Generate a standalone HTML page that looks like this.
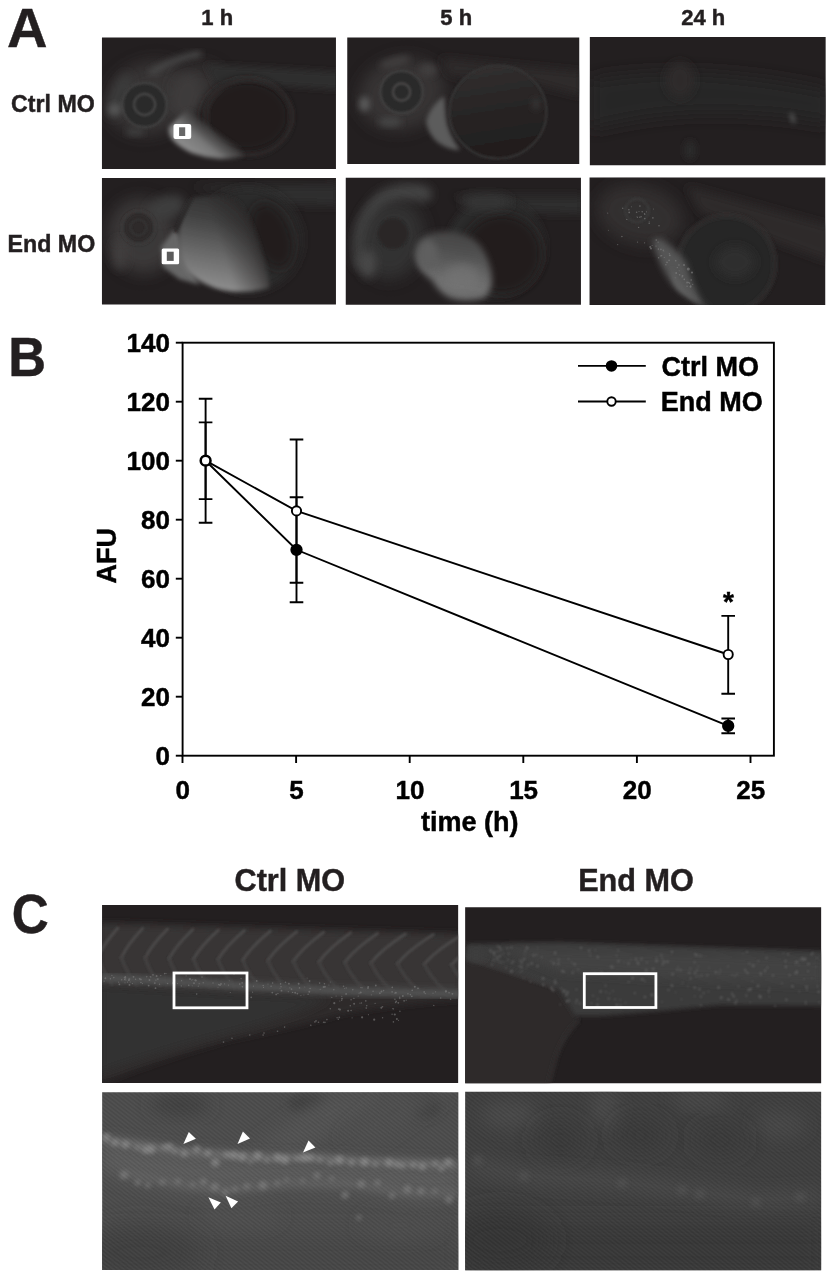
<!DOCTYPE html>
<html lang="en">
<head>
<meta charset="utf-8">
<title>Figure</title>
<style>
html,body{margin:0;padding:0;background:#fff;}
body{width:834px;height:1280px;overflow:hidden;position:relative;}
svg{display:block;position:absolute;left:0;top:0;}
text{font-family:"Liberation Sans",Arial,Helvetica,sans-serif;font-weight:bold;fill:#231f20;stroke:#231f20;stroke-width:0.45px;}
.pl{fill:#231f20;font-size:56px;}
.hd{font-size:23.2px;}
.th{font-size:22px;}
.ax{font-size:26px;fill:#000;stroke:#000;}
.at{font-size:27px;}
.ch{font-size:30.6px;}
</style>
</head>
<body>
<svg width="834" height="1280" viewBox="0 0 834 1280">
<defs>
  <filter id="b1" x="-30%" y="-30%" width="160%" height="160%"><feGaussianBlur stdDeviation="1"/></filter>
  <filter id="b2" x="-30%" y="-30%" width="160%" height="160%"><feGaussianBlur stdDeviation="2"/></filter>
  <filter id="b3" x="-30%" y="-30%" width="160%" height="160%"><feGaussianBlur stdDeviation="3"/></filter>
  <filter id="b5" x="-40%" y="-40%" width="180%" height="180%"><feGaussianBlur stdDeviation="5"/></filter>
  <filter id="b8" x="-50%" y="-50%" width="200%" height="200%"><feGaussianBlur stdDeviation="8"/></filter>
  <filter id="b12" x="-60%" y="-60%" width="220%" height="220%"><feGaussianBlur stdDeviation="12"/></filter>
  <pattern id="hx" width="3.2" height="3.2" patternUnits="userSpaceOnUse" patternTransform="rotate(38)"><rect width="3.2" height="1.3" fill="#000" opacity="0.06"/><rect y="1.6" width="3.2" height="1.3" fill="#fff" opacity="0.022"/></pattern>
  <clipPath id="cA1"><rect x="101.95" y="37.55" width="234.00" height="131.40"/></clipPath>
  <clipPath id="cA2"><rect x="347.25" y="37.55" width="232.00" height="126.40"/></clipPath>
  <clipPath id="cA3"><rect x="589.85" y="37.05" width="235.80" height="128.10"/></clipPath>
  <clipPath id="cA4"><rect x="101.95" y="177.95" width="234.00" height="126.50"/></clipPath>
  <clipPath id="cA5"><rect x="345.75" y="177.75" width="235.20" height="127.00"/></clipPath>
  <clipPath id="cA6"><rect x="589.55" y="177.55" width="235.70" height="127.40"/></clipPath>
  <clipPath id="cC1"><rect x="102.05" y="905.05" width="356.10" height="177.90"/></clipPath>
  <clipPath id="cC2"><rect x="465.15" y="907.15" width="356.00" height="176.10"/></clipPath>
  <clipPath id="cC3"><rect x="102.15" y="1092.15" width="356.20" height="177.90"/></clipPath>
  <clipPath id="cC4"><rect x="465.15" y="1091.65" width="356.00" height="178.70"/></clipPath>
</defs>

<!-- ================= PANEL A ================= -->
<text class="pl" x="7" y="47.3">A</text>
<text class="hd th" x="217.2" y="25" text-anchor="middle">1 h</text>
<text class="hd th" x="456.2" y="25" text-anchor="middle">5 h</text>
<text class="hd th" x="703.3" y="25" text-anchor="middle">24 h</text>
<text class="hd" x="94.8" y="111.6" text-anchor="end">Ctrl MO</text>
<text class="hd" x="95.2" y="251.8" text-anchor="end">End MO</text>

<g id="A1" clip-path="url(#cA1)">
  <rect x="100.4" y="36.0" width="237.1" height="134.5" fill="#231f20"/>
  <!-- head glow -->
  <ellipse cx="150" cy="98" rx="44" ry="36" fill="#3c3b3b" opacity="0.8" filter="url(#b8)" transform="rotate(-20 150 98)"/>
  <ellipse cx="200" cy="88" rx="26" ry="24" fill="#3a3939" opacity="0.8" filter="url(#b8)"/>
  <!-- trunk -->
  <path d="M205 64 L340 72 L340 90 L250 84 L215 86 Z" fill="#2f2d2d" filter="url(#b3)"/>
  <!-- top streak -->
  <path d="M152 72 Q175 58 199 54" stroke="#484848" stroke-width="6" fill="none" stroke-linecap="round" filter="url(#b3)"/>
  <!-- eye -->
  <ellipse cx="186" cy="96" rx="15" ry="22" fill="#3c3b3b" filter="url(#b5)" transform="rotate(15 186 96)"/>
  <ellipse cx="120" cy="96" rx="9" ry="24" fill="#3b3a3a" filter="url(#b5)" transform="rotate(20 120 96)"/>
  <circle cx="144.6" cy="105" r="22" fill="#2c2b2b" filter="url(#b1)"/>
  <circle cx="144.6" cy="105" r="22.3" fill="none" stroke="#414040" stroke-width="2.4" filter="url(#b1)"/>
  <circle cx="144.6" cy="104.5" r="10.5" fill="none" stroke="#454444" stroke-width="2.4" filter="url(#b1)"/>
  <circle cx="114.5" cy="109.5" r="6" fill="#575757" filter="url(#b3)"/>
  <ellipse cx="135" cy="132" rx="10" ry="4" fill="#3d3c3c" filter="url(#b3)"/>
  <!-- yolk -->
  <ellipse cx="246" cy="116" rx="44" ry="36" fill="#201d1d" filter="url(#b5)"/>
  <ellipse cx="249" cy="117" rx="43" ry="38" fill="none" stroke="#312f2f" stroke-width="3" filter="url(#b2)"/>
  <!-- bright ventral crescent -->
  <linearGradient id="gA1" gradientUnits="userSpaceOnUse" x1="190" y1="154" x2="214" y2="124">
    <stop offset="0" stop-color="#8e8e8e"/><stop offset="0.45" stop-color="#787878"/><stop offset="0.8" stop-color="#4a4949" stop-opacity="0.7"/><stop offset="1" stop-color="#2a2828" stop-opacity="0"/>
  </linearGradient>
  <path d="M187 109 L169 127 Q167.5 136 175 142.5 Q184 150 193 153.5 Q206 158 219 158.8 Q232 159 244 156.5 L240 147 Q224 137 210 127 Q200 119 194 110 Z" fill="url(#gA1)" filter="url(#b2)"/>
  <!-- ROI box -->
  <rect x="173.5" y="123.9" width="17.7" height="15.2" rx="2" fill="#fff"/>
  <rect x="179.1" y="127.3" width="6.1" height="8.7" fill="#676767"/>
</g>
<g id="A2" clip-path="url(#cA2)">
  <rect x="345.7" y="36.0" width="235.1" height="129.5" fill="#231f20"/>
  <!-- head glow -->
  <ellipse cx="402" cy="94" rx="44" ry="36" fill="#3a3939" opacity="0.85" filter="url(#b8)" transform="rotate(-15 402 94)"/>
  <!-- trunk -->
  <path d="M440 58 L582 72 L582 96 L520 80 L450 76 Z" fill="#2e2c2c" filter="url(#b5)"/>
  <!-- yolk -->
  <linearGradient id="gA2" gradientUnits="userSpaceOnUse" x1="490" y1="66" x2="505" y2="158">
    <stop offset="0" stop-color="#312f2f"/><stop offset="0.45" stop-color="#282525"/><stop offset="1" stop-color="#201d1d"/>
  </linearGradient>
  <ellipse cx="498" cy="112" rx="48.5" ry="46.5" fill="url(#gA2)" filter="url(#b1)"/>
  <ellipse cx="498" cy="112" rx="48.5" ry="46.5" fill="none" stroke="#363434" stroke-width="2.2" filter="url(#b1)"/>
  <ellipse cx="536" cy="104" rx="5" ry="6" fill="#343232" filter="url(#b3)"/>
  <!-- eye -->
  <circle cx="401.6" cy="92" r="21" fill="#2c2a2a" filter="url(#b1)"/>
  <circle cx="401.6" cy="92" r="21.3" fill="none" stroke="#414040" stroke-width="2.4" filter="url(#b1)"/>
  <circle cx="401.6" cy="92" r="8.6" fill="none" stroke="#464545" stroke-width="2.6" filter="url(#b1)"/>
  <ellipse cx="364.5" cy="104" rx="5.5" ry="7.5" fill="#5a5a5a" filter="url(#b3)"/>
  <ellipse cx="390" cy="122" rx="12" ry="5" fill="#454444" filter="url(#b3)"/>
  <ellipse cx="428" cy="70" rx="9" ry="7" fill="#3f3e3e" filter="url(#b3)"/>
  <ellipse cx="395" cy="62" rx="16" ry="5" fill="#3f3e3e" filter="url(#b3)" transform="rotate(-15 395 62)"/>
  <!-- pericardial -->
  <path d="M444 96 Q430 106 426 121 Q428 136 440 144 Q450 150 460 150 Q448 134 446 118 Z" fill="#5c5c5c" filter="url(#b2)"/>
</g>
<g id="A3" clip-path="url(#cA3)">
  <rect x="588.3" y="35.5" width="238.9" height="131.2" fill="#231f20"/>
  <path d="M590 80 Q690 60 830 90 L830 125 Q700 100 590 130 Z" fill="#282525" filter="url(#b8)"/>
  <ellipse cx="680" cy="80" rx="14" ry="18" fill="#2d2b2b" filter="url(#b5)"/>
  <ellipse cx="792.5" cy="118" rx="3" ry="6" fill="#454444" filter="url(#b2)" transform="rotate(-20 792.5 118)"/>
  <ellipse cx="690" cy="150" rx="6" ry="10" fill="#2c2a2a" filter="url(#b3)"/>
</g>
<g id="A4" clip-path="url(#cA4)">
  <rect x="100.4" y="176.4" width="237.1" height="129.6" fill="#231f20"/>
  <!-- head -->
  <ellipse cx="142" cy="236" rx="34" ry="38" fill="#3c3b3b" opacity="0.95" filter="url(#b8)" transform="rotate(-15 142 236)"/>
  <ellipse cx="166" cy="208" rx="20" ry="12" fill="#3e3d3d" filter="url(#b5)" transform="rotate(-20 166 208)"/>
  <ellipse cx="120" cy="254" rx="8" ry="16" fill="#3f3e3e" filter="url(#b5)"/>
  <circle cx="138.5" cy="227.5" r="16" fill="#2e2c2c" filter="url(#b2)"/>
  <circle cx="138.5" cy="227.5" r="16.5" fill="none" stroke="#3c3b3b" stroke-width="2" filter="url(#b1)"/>
  <circle cx="138.5" cy="227.5" r="8" fill="none" stroke="#363535" stroke-width="2" filter="url(#b1)"/>
  <!-- trunk -->
  <path d="M190 186 L340 184 L340 206 L280 204 Z" fill="#2e2d2d" filter="url(#b5)"/>
  <!-- yolk outline glow -->
  <ellipse cx="248" cy="240" rx="54" ry="52" fill="#2b2929" filter="url(#b5)"/>
  <ellipse cx="272" cy="236" rx="20" ry="34" fill="#221f1f" filter="url(#b5)" transform="rotate(-20 272 236)"/>
  <!-- pericardial region -->
  <path d="M174 230 L161 247 L163 267 L179 279 L200 285 L184 262 L180 236 Z" fill="#666" filter="url(#b2)"/>
  <!-- bright yolk -->
  <linearGradient id="gA4" gradientUnits="userSpaceOnUse" x1="240" y1="194" x2="222" y2="292">
    <stop offset="0" stop-color="#2e2d2d"/><stop offset="0.3" stop-color="#424242"/><stop offset="0.65" stop-color="#6a6a6a"/><stop offset="1" stop-color="#909090"/>
  </linearGradient>
  <linearGradient id="gA4b" gradientUnits="userSpaceOnUse" x1="222" y1="250" x2="266" y2="236">
    <stop offset="0" stop-color="#252222" stop-opacity="0"/><stop offset="0.55" stop-color="#252222" stop-opacity="0.45"/><stop offset="1" stop-color="#252222" stop-opacity="1"/>
  </linearGradient>
  <g filter="url(#b2)">
  <path id="yA4" d="M190.5 199 Q182 214 179 230 Q177 246 181 261 Q186 273 198 280 Q214 290 231 291.5 Q252 293 269 287.5 Q268 272 263 257 Q259 242 253.5 228 Q247 213 240 203 Q230 196 217 195.5 Q200 195 190.5 199 Z" fill="url(#gA4)"/>
  <path d="M190.5 199 Q182 214 179 230 Q177 246 181 261 Q186 273 198 280 Q214 290 231 291.5 Q252 293 269 287.5 Q268 272 263 257 Q259 242 253.5 228 Q247 213 240 203 Q230 196 217 195.5 Q200 195 190.5 199 Z" fill="url(#gA4b)"/>
  </g>
  <!-- dark line separating head and yolk -->
  <path d="M192 198 L175 232" stroke="#2a2828" stroke-width="2.5" fill="none" filter="url(#b1)"/>
  <!-- ROI box -->
  <rect x="161.7" y="248.5" width="17.4" height="15.7" rx="1.5" fill="#fff"/>
  <rect x="166.8" y="251.7" width="6.9" height="9.2" fill="#5c5c5c"/>
</g>
<g id="A5" clip-path="url(#cA5)">
  <rect x="344.2" y="176.2" width="238.3" height="130.1" fill="#231f20"/>
  <!-- head glow crescent -->
  <path d="M362 262 Q356 220 384 198 Q404 188 424 194" stroke="#454444" stroke-width="16" fill="none" stroke-linecap="round" filter="url(#b5)"/>
  <ellipse cx="392" cy="240" rx="32" ry="40" fill="#363535" opacity="0.9" filter="url(#b8)" transform="rotate(15 392 240)"/>
  <ellipse cx="368" cy="264" rx="8" ry="14" fill="#4a4949" filter="url(#b5)"/>
  <!-- trunk -->
  <path d="M450 196 L584 196 L584 214 L520 212 Z" fill="#2e2d2d" filter="url(#b5)"/>
  <!-- yolk outline -->
  <ellipse cx="496" cy="248" rx="50" ry="50" fill="#2b2929" filter="url(#b3)"/>
  <ellipse cx="502" cy="254" rx="40" ry="40" fill="#211e1e" filter="url(#b5)"/>
  <ellipse cx="486" cy="202" rx="26" ry="8" fill="#363535" filter="url(#b5)"/>
  <!-- eye -->
  <circle cx="393" cy="233.6" r="15.5" fill="#2a2828" filter="url(#b1)"/>
  <!-- bright blobs -->
  <linearGradient id="gA5" gradientUnits="userSpaceOnUse" x1="462" y1="230" x2="452" y2="300">
    <stop offset="0" stop-color="#424141"/><stop offset="0.35" stop-color="#525252"/><stop offset="0.75" stop-color="#707070"/><stop offset="1" stop-color="#6c6c6c"/>
  </linearGradient>
  <path d="M420 240 Q428 231 446 231.5 Q468 232 480 245 Q492 262 492 282 Q490 294 484 298 Q466 303 450 298 Q438 292 432 280 Q418 272 415 256 Q415 246 420 240 Z" fill="url(#gA5)" filter="url(#b3)"/>
  <ellipse cx="428" cy="255" rx="10" ry="15" fill="#5e5e5e" filter="url(#b3)"/>
  <ellipse cx="462" cy="278" rx="18" ry="14" fill="#747474" opacity="0.7" filter="url(#b5)"/>
</g>
<g id="A6" clip-path="url(#cA6)">
  <rect x="588.0" y="176.0" width="238.8" height="130.5" fill="#231f20"/>
  <!-- head glow -->
  <ellipse cx="640" cy="215" rx="44" ry="30" fill="#343333" opacity="0.9" filter="url(#b8)" transform="rotate(15 640 215)"/>
  <!-- trunk band -->
  <path d="M686 186 L830 226 L830 262 L770 240 L700 212 Z" fill="#2d2b2b" filter="url(#b5)"/>
  <!-- yolk -->
  <circle cx="726.5" cy="264" r="49" fill="#282626" filter="url(#b2)"/>
  <circle cx="726.5" cy="264" r="48.5" fill="none" stroke="#353333" stroke-width="2.5" filter="url(#b2)"/>
  <ellipse cx="735" cy="262" rx="20" ry="16" fill="#2f2e2e" filter="url(#b5)"/>
  <!-- eye ring -->
  <circle cx="637" cy="210.5" r="11.5" fill="none" stroke="#3b3a3a" stroke-width="2" filter="url(#b1)"/>
  <!-- bright crescent -->
  <path d="M652 240 Q658 264 672 284 Q686 300 712 308 L702 302 Q692 284 686 262 Q676 248 660 238 Z" fill="#545454" filter="url(#b3)"/>
  <path d="M672 268 Q680 288 704 304 Q690 300 678 290 Q670 280 672 268 Z" fill="#5e5e5e" filter="url(#b2)"/>
  <!-- bright dots -->
  <g fill="#858585" opacity="0.6"><circle cx="637.5" cy="217.3" r="0.6"/><circle cx="631.4" cy="206.7" r="0.5"/><circle cx="646.5" cy="211.8" r="0.6"/><circle cx="638.6" cy="227.4" r="0.7"/><circle cx="639.9" cy="206.1" r="0.8"/><circle cx="641.1" cy="216.8" r="0.8"/><circle cx="628.9" cy="209.8" r="0.8"/><circle cx="644.8" cy="214.3" r="0.7"/><circle cx="636.6" cy="212.2" r="0.8"/><circle cx="629.2" cy="212.4" r="0.9"/><circle cx="644.6" cy="242.8" r="0.6"/><circle cx="649.2" cy="223.2" r="0.8"/><circle cx="653.5" cy="209" r="0.5"/><circle cx="617.7" cy="244.6" r="0.6"/><circle cx="639.8" cy="217.3" r="0.7"/><circle cx="626.8" cy="219.4" r="0.7"/><circle cx="637.5" cy="242.1" r="0.7"/><circle cx="656.2" cy="240.1" r="0.8"/><circle cx="642.2" cy="211.7" r="0.8"/><circle cx="658.1" cy="242.1" r="0.7"/><circle cx="644.5" cy="213.7" r="0.7"/><circle cx="637" cy="216.7" r="0.5"/><circle cx="652.1" cy="245.6" r="0.5"/><circle cx="649.2" cy="221.8" r="0.5"/><circle cx="621.9" cy="236.5" r="0.8"/><circle cx="608.4" cy="230.2" r="0.5"/><circle cx="644.8" cy="218.6" r="0.8"/><circle cx="659" cy="225.7" r="0.8"/><circle cx="622.7" cy="208.2" r="0.7"/><circle cx="607.7" cy="213.1" r="0.6"/><circle cx="639" cy="211.4" r="0.5"/><circle cx="652.9" cy="217.9" r="0.8"/><circle cx="691.2" cy="280" r="0.8"/><circle cx="679.6" cy="274.7" r="0.8"/><circle cx="675.7" cy="260.8" r="0.8"/><circle cx="669.8" cy="255.3" r="0.9"/><circle cx="660.9" cy="249.4" r="0.8"/><circle cx="675.2" cy="277.7" r="0.5"/><circle cx="669.1" cy="260.4" r="0.8"/><circle cx="679.1" cy="270.7" r="0.5"/><circle cx="678.9" cy="265" r="0.7"/><circle cx="682.5" cy="275.8" r="0.9"/><circle cx="651" cy="248.6" r="1"/><circle cx="661.6" cy="255.8" r="0.7"/><circle cx="677.3" cy="267.6" r="0.7"/><circle cx="667" cy="262.4" r="0.8"/><circle cx="663.8" cy="250.9" r="0.5"/><circle cx="676.2" cy="273" r="0.9"/><circle cx="664.3" cy="257.5" r="0.6"/><circle cx="658.6" cy="257.7" r="0.7"/><circle cx="682.1" cy="276.9" r="0.7"/><circle cx="688.3" cy="282.4" r="0.7"/><circle cx="689.4" cy="283.1" r="0.8"/><circle cx="690.7" cy="285.9" r="0.7"/><circle cx="660.4" cy="255.9" r="0.6"/><circle cx="687.1" cy="282.5" r="0.9"/><circle cx="658.4" cy="249.1" r="0.8"/><circle cx="687.1" cy="286.2" r="0.7"/><circle cx="656" cy="246.1" r="0.6"/><circle cx="665.9" cy="264.8" r="0.7"/><circle cx="669.3" cy="253.7" r="0.6"/><circle cx="650.2" cy="247.1" r="1"/><circle cx="690.5" cy="286.7" r="1"/><circle cx="692.7" cy="284.3" r="0.6"/><circle cx="684.3" cy="279.4" r="0.8"/><circle cx="663.3" cy="250.3" r="0.7"/><circle cx="688.3" cy="269" r="1.5"/><circle cx="692" cy="272.5" r="1.1"/><circle cx="684" cy="265" r="1"/></g>
</g>

<!-- ================= PANEL B ================= -->
<text class="pl" x="8.3" y="375.7" transform="translate(8.3 0) scale(0.935 1) translate(-8.3 0)">B</text>
<g id="plot" stroke="#000" stroke-width="1.9" fill="none">
  <rect x="182.6" y="342.7" width="591.3" height="413"/>
  <line x1="175.8" y1="755.7" x2="182.6" y2="755.7"/>
  <line x1="175.8" y1="696.7" x2="182.6" y2="696.7"/>
  <line x1="175.8" y1="637.7" x2="182.6" y2="637.7"/>
  <line x1="175.8" y1="578.7" x2="182.6" y2="578.7"/>
  <line x1="175.8" y1="519.7" x2="182.6" y2="519.7"/>
  <line x1="175.8" y1="460.7" x2="182.6" y2="460.7"/>
  <line x1="175.8" y1="401.7" x2="182.6" y2="401.7"/>
  <line x1="175.8" y1="342.7" x2="182.6" y2="342.7"/>
  <line x1="182.5" y1="755.7" x2="182.5" y2="763"/>
  <line x1="296.1" y1="755.7" x2="296.1" y2="763"/>
  <line x1="409.7" y1="755.7" x2="409.7" y2="763"/>
  <line x1="523.3" y1="755.7" x2="523.3" y2="763"/>
  <line x1="636.9" y1="755.7" x2="636.9" y2="763"/>
  <line x1="750.5" y1="755.7" x2="750.5" y2="763"/>
  <path d="M205.6 522.7V398.8M198.8 522.7h13.6M198.8 398.8h13.6"/>
  <path d="M205.6 499.1V422.4M198.8 499.1h13.6M198.8 422.4h13.6"/>
  <path d="M296.5 582.8V439.5M289.7 582.8h13.6M289.7 439.5h13.6"/>
  <path d="M296.5 602.3V497.3M289.7 602.3h13.6M289.7 497.3h13.6"/>
  <path d="M728.1999999999999 693.8V615.9M721.4 693.8h13.6M721.4 615.9h13.6"/>
  <path d="M728.1999999999999 733.3V718.5M721.4 733.3h13.6M721.4 718.5h13.6"/>
  <polyline points="205.6,460.7 296.5,549.8 728.2,725.9"/>
  <polyline points="205.6,460.7 296.5,510.9 728.2,654.5"/>
  <circle cx="205.6" cy="460.7" r="5.2" fill="#000"/>
  <circle cx="296.5" cy="549.8" r="5.2" fill="#000"/>
  <circle cx="728.2" cy="725.9" r="5.2" fill="#000"/>
  <circle cx="205.6" cy="460.7" r="4.6" fill="#fff"/>
  <circle cx="296.5" cy="510.9" r="4.6" fill="#fff"/>
  <circle cx="728.2" cy="654.5" r="4.6" fill="#fff"/>
  <line x1="578" y1="365.9" x2="645.8" y2="365.9"/><circle cx="611.5" cy="365.9" r="4.8" fill="#000"/>
  <line x1="578" y1="401.5" x2="645.8" y2="401.5"/><circle cx="611.5" cy="401.5" r="4.2" fill="#fff"/>
</g>
<text class="ax" x="170" y="764.6" text-anchor="end">0</text>
<text class="ax" x="170" y="705.6" text-anchor="end">20</text>
<text class="ax" x="170" y="646.6" text-anchor="end">40</text>
<text class="ax" x="170" y="587.6" text-anchor="end">60</text>
<text class="ax" x="170" y="528.6" text-anchor="end">80</text>
<text class="ax" x="170" y="469.6" text-anchor="end">100</text>
<text class="ax" x="170" y="410.6" text-anchor="end">120</text>
<text class="ax" x="170" y="351.6" text-anchor="end">140</text>
<text class="ax" x="182.8" y="798.6" text-anchor="middle">0</text>
<text class="ax" x="296.4" y="798.6" text-anchor="middle">5</text>
<text class="ax" x="410.0" y="798.6" text-anchor="middle">10</text>
<text class="ax" x="523.6" y="798.6" text-anchor="middle">15</text>
<text class="ax" x="637.2" y="798.6" text-anchor="middle">20</text>
<text class="ax" x="750.8" y="798.6" text-anchor="middle">25</text>
<text class="ax at" x="661.5" y="375.5">Ctrl MO</text>
<text class="ax at" x="660.8" y="411.1">End MO</text>
<text class="ax at" x="469.8" y="830.6" text-anchor="middle">time (h)</text>
<text class="ax at" transform="translate(115.5 555.8) rotate(-90)" text-anchor="middle">AFU</text>
<text class="ax" x="728.4" y="611.3" text-anchor="middle" style="font-size:28px">*</text>

<!-- ================= PANEL C ================= -->
<text class="pl" x="11.8" y="932.6" style="font-size:55px" transform="translate(11.8 0) scale(0.93 1) translate(-11.8 0)">C</text>
<text class="ch" x="289.8" y="890.6" text-anchor="middle">Ctrl MO</text>
<text class="ch" x="636" y="890.6" text-anchor="middle">End MO</text>

<g id="C1" clip-path="url(#cC1)">
  <rect x="100" y="903" width="360" height="182" fill="#231f20"/>
  <path d="M100 922 L460 933 L460 1000 Q400 1004 342 1014 Q300 1026 230 1040 Q160 1060 100 1084 Z" fill="#2e2c2c" filter="url(#b3)"/>
  <path d="M100 925 L460 936 L460 994 L100 980 Z" fill="#373636" filter="url(#b3)"/>
  <path d="M100 985 L330 998 Q300 1015 230 1034 Q160 1052 100 1074 Z" fill="#323030" filter="url(#b5)"/>
  <path d="M93.5 927.4 Q80 943.4 74.8 956.4 M117.9 928 Q103.6 944 98 957 M142.6 928.5 Q127.4 944.5 121.5 957.5 M167.6 929 Q151.5 945 145.2 958 M192.9 929.5 Q175.9 945.5 169.2 958.5 M218.4 930.1 Q200.5 946.1 193.5 959.1 M244.3 930.6 Q225.4 946.6 218 959.6 M270.4 931.2 Q250.6 947.2 242.9 960.2 M296.8 931.7 Q276 947.7 267.9 960.7 M323.5 932.3 Q301.8 948.3 293.3 961.3 M350.5 932.9 Q327.8 948.9 319 961.9 M377.8 933.4 Q354.1 949.4 344.9 962.4 M405.4 934 Q380.7 950 371.1 963 M433.3 934.6 Q407.6 950.6 397.6 963.6 M461.6 935.2 Q434.8 951.2 424.4 964.2 M490.1 935.8 Q462.3 951.8 451.5 964.8" stroke="#4b4a4a" stroke-width="2.8" fill="none" stroke-linecap="round" filter="url(#b1)"/>
  <path d="M74.8 956.4 Q78.8 970.4 88.2 983.4 M98 957 Q102.2 971 112 984 M121.5 957.5 Q125.8 971.5 136 984.5 M145.2 958 Q149.7 972 160.2 985 M169.2 958.5 Q173.9 972.5 184.8 985.5 M193.5 959.1 Q198.3 973.1 209.6 986.1 M218 959.6 Q223 973.6 234.7 986.6 M242.9 960.2 Q248 974.2 260 987.2 M267.9 960.7 Q273.3 974.7 285.7 987.7 M293.3 961.3 Q298.8 975.3 311.6 988.3 M319 961.9 Q324.6 975.9 337.8 988.9 M344.9 962.4 Q350.7 976.4 364.3 989.4 M371.1 963 Q377.1 977 391.1 990 M397.6 963.6 Q403.8 977.6 418.2 990.6 M424.4 964.2 Q430.8 978.2 445.6 991.2 M451.5 964.8 Q458.1 978.8 473.4 991.8" stroke="#424141" stroke-width="3.2" fill="none" stroke-linecap="round" filter="url(#b1)"/>
  <path d="M100 978 L175 982 L250 986.5 L340 991 L460 994" stroke="#4a4949" stroke-width="10" fill="none" filter="url(#b3)"/>
  <path d="M100 977.5 L175 981.5 L250 986 L340 991 L460 994" stroke="#525252" stroke-width="4" fill="none" filter="url(#b2)"/>
  <g fill="#868686" opacity="0.55"><circle cx="218" cy="987.2" r="0.5"/><circle cx="292.6" cy="992.4" r="0.7"/><circle cx="124.4" cy="977.5" r="0.7"/><circle cx="128.6" cy="978.9" r="0.5"/><circle cx="253.4" cy="986.2" r="0.6"/><circle cx="324.9" cy="986.7" r="1"/><circle cx="307.1" cy="978.1" r="0.5"/><circle cx="406.2" cy="1000.2" r="0.6"/><circle cx="154.8" cy="983.1" r="0.9"/><circle cx="167.6" cy="983.5" r="0.8"/><circle cx="328.9" cy="985" r="0.5"/><circle cx="125" cy="982.8" r="0.6"/><circle cx="343.5" cy="986.2" r="0.8"/><circle cx="263.5" cy="987.4" r="0.6"/><circle cx="383.6" cy="990.6" r="0.8"/><circle cx="288.9" cy="983.7" r="0.9"/><circle cx="360.8" cy="987.6" r="0.6"/><circle cx="251.2" cy="997.3" r="0.9"/><circle cx="157.5" cy="979.1" r="0.8"/><circle cx="373.1" cy="991.2" r="0.8"/><circle cx="412.2" cy="990.4" r="0.8"/><circle cx="308.1" cy="994.3" r="0.7"/><circle cx="399.7" cy="997.3" r="0.8"/><circle cx="125.4" cy="977" r="0.9"/><circle cx="331.8" cy="997.4" r="0.6"/><circle cx="239.8" cy="984.1" r="0.8"/><circle cx="111.9" cy="975.4" r="0.6"/><circle cx="124.8" cy="979.4" r="0.9"/><circle cx="149.5" cy="980" r="0.9"/><circle cx="132.4" cy="983.6" r="0.7"/><circle cx="297.4" cy="993.6" r="0.9"/><circle cx="202" cy="977" r="0.7"/><circle cx="230.3" cy="992.5" r="0.6"/><circle cx="166" cy="973.3" r="0.6"/><circle cx="186.1" cy="975.8" r="0.6"/><circle cx="105.4" cy="978.3" r="0.7"/><circle cx="234" cy="974" r="0.8"/><circle cx="285.5" cy="982.3" r="0.8"/><circle cx="342" cy="998.7" r="0.9"/><circle cx="411.8" cy="996.3" r="0.9"/><circle cx="242.1" cy="982.9" r="0.8"/><circle cx="125.9" cy="980" r="0.5"/><circle cx="177.5" cy="983.5" r="0.5"/><circle cx="104.1" cy="981.2" r="0.6"/><circle cx="139.7" cy="978.8" r="0.9"/><circle cx="320.2" cy="989.3" r="0.6"/><circle cx="192.8" cy="979.7" r="0.6"/><circle cx="402.8" cy="996.1" r="1"/><circle cx="268" cy="984" r="0.6"/><circle cx="224.6" cy="983.9" r="0.6"/><circle cx="395.8" cy="992.8" r="1"/><circle cx="289.9" cy="987.8" r="0.6"/><circle cx="295.2" cy="992.7" r="1"/><circle cx="407.9" cy="993.8" r="0.8"/><circle cx="195.9" cy="980.5" r="0.9"/><circle cx="291.5" cy="989.1" r="0.9"/><circle cx="220" cy="984.9" r="1"/><circle cx="404.1" cy="1000.8" r="0.9"/><circle cx="392.1" cy="991.9" r="0.8"/><circle cx="229.2" cy="980.7" r="0.5"/><circle cx="113.8" cy="977.6" r="0.8"/><circle cx="440.7" cy="998" r="0.7"/><circle cx="433.8" cy="1005.4" r="0.7"/><circle cx="181.6" cy="980.7" r="0.6"/><circle cx="173.2" cy="982.9" r="1"/><circle cx="399.8" cy="998.5" r="0.7"/><circle cx="333.8" cy="989.8" r="0.8"/><circle cx="424.2" cy="991.9" r="0.9"/><circle cx="368" cy="988.1" r="0.9"/><circle cx="221" cy="983.9" r="0.9"/><circle cx="446" cy="991.2" r="1"/><circle cx="359.1" cy="993.2" r="0.6"/><circle cx="148.7" cy="985.6" r="0.9"/><circle cx="155.5" cy="988.2" r="0.9"/><circle cx="449.1" cy="992.7" r="0.8"/><circle cx="150.1" cy="976.5" r="0.5"/><circle cx="445.8" cy="991.5" r="1"/><circle cx="256.7" cy="980.9" r="0.9"/><circle cx="394.8" cy="993.1" r="0.6"/><circle cx="188.7" cy="985.3" r="0.8"/><circle cx="195.3" cy="980.2" r="1"/><circle cx="228.5" cy="985.1" r="0.7"/><circle cx="309.3" cy="991.8" r="1"/><circle cx="280.6" cy="983.9" r="0.8"/><circle cx="288.3" cy="991.7" r="0.6"/><circle cx="105.4" cy="978.3" r="0.9"/><circle cx="164.7" cy="973.6" r="0.8"/><circle cx="218.7" cy="984.6" r="0.8"/><circle cx="299.5" cy="987.9" r="0.8"/><circle cx="191.5" cy="980" r="0.6"/><circle cx="375.8" cy="985.5" r="0.9"/><circle cx="425.2" cy="993.5" r="0.7"/><circle cx="319.6" cy="983.1" r="0.8"/><circle cx="263.2" cy="985.5" r="0.8"/><circle cx="272.3" cy="992.6" r="0.9"/><circle cx="435.6" cy="991.8" r="0.6"/><circle cx="300.9" cy="995.6" r="0.6"/><circle cx="146.8" cy="976.8" r="0.7"/><circle cx="129.5" cy="979.1" r="0.8"/><circle cx="379.9" cy="993.2" r="0.9"/><circle cx="158.4" cy="979" r="0.6"/><circle cx="414.8" cy="986.8" r="1"/><circle cx="181.3" cy="985.9" r="0.7"/><circle cx="452.4" cy="993.8" r="0.9"/><circle cx="160.8" cy="975.6" r="0.7"/><circle cx="172.9" cy="983.4" r="0.7"/><circle cx="358.2" cy="996.1" r="0.7"/><circle cx="110.4" cy="978.7" r="0.7"/><circle cx="323.6" cy="987" r="1"/><circle cx="381.5" cy="991.4" r="1"/><circle cx="140.9" cy="979.4" r="0.9"/><circle cx="199.2" cy="983.7" r="0.6"/><circle cx="252.6" cy="992.2" r="0.6"/><circle cx="156.6" cy="975.9" r="1"/><circle cx="304.8" cy="987.1" r="0.5"/><circle cx="346.2" cy="988" r="0.7"/><circle cx="129.5" cy="984.9" r="0.9"/><circle cx="133.5" cy="976.8" r="0.9"/><circle cx="127.5" cy="982.1" r="0.7"/><circle cx="298.7" cy="983.7" r="1"/><circle cx="198.3" cy="986.2" r="0.6"/><circle cx="142.5" cy="983.6" r="0.6"/><circle cx="121.7" cy="979.7" r="0.7"/><circle cx="371.3" cy="994.8" r="0.6"/><circle cx="280" cy="988.3" r="0.5"/><circle cx="192.2" cy="985.8" r="0.5"/><circle cx="362" cy="987.8" r="0.7"/><circle cx="433" cy="993.2" r="0.6"/><circle cx="392.3" cy="987.3" r="0.9"/><circle cx="242.4" cy="986.8" r="0.8"/><circle cx="346.1" cy="993.9" r="0.9"/><circle cx="352.8" cy="989.7" r="0.8"/><circle cx="246.5" cy="984" r="0.6"/><circle cx="128.9" cy="980.2" r="0.9"/><circle cx="194" cy="983.2" r="0.9"/><circle cx="410.4" cy="994.6" r="0.8"/><circle cx="203.2" cy="982.8" r="0.7"/><circle cx="159.5" cy="984.2" r="0.7"/><circle cx="196.7" cy="994.1" r="0.8"/><circle cx="190" cy="979.1" r="1"/><circle cx="213" cy="983" r="0.7"/><circle cx="271.1" cy="986.2" r="0.8"/><circle cx="174.7" cy="980.8" r="0.6"/><circle cx="135.6" cy="979.3" r="0.7"/><circle cx="118.7" cy="982.2" r="0.6"/><circle cx="310.1" cy="988.5" r="0.8"/><circle cx="368.2" cy="987" r="0.9"/><circle cx="241.1" cy="978.6" r="0.7"/><circle cx="450.6" cy="999.3" r="0.8"/><circle cx="119.4" cy="984.3" r="0.9"/><circle cx="418" cy="988.3" r="0.9"/><circle cx="153" cy="974.9" r="0.8"/><circle cx="281.5" cy="990.7" r="0.9"/><circle cx="309.6" cy="981" r="0.9"/><circle cx="344.4" cy="988.6" r="0.5"/><circle cx="150.8" cy="977" r="0.7"/><circle cx="140.9" cy="982.5" r="0.8"/><circle cx="324.4" cy="983.8" r="0.8"/><circle cx="276.2" cy="994.4" r="0.9"/><circle cx="281" cy="986.7" r="0.8"/><circle cx="336.1" cy="996" r="0.6"/><circle cx="130.2" cy="982" r="0.6"/><circle cx="360.7" cy="992.6" r="1"/><circle cx="277.9" cy="993.5" r="0.7"/><circle cx="272.6" cy="983" r="0.8"/><circle cx="330.3" cy="982" r="0.5"/><circle cx="155.9" cy="980.1" r="0.7"/><circle cx="303.9" cy="995.1" r="0.5"/><circle cx="125.4" cy="978" r="0.8"/><circle cx="341.8" cy="996.3" r="0.6"/><circle cx="366.2" cy="1008.1" r="0.8"/><circle cx="338.3" cy="1019.2" r="0.7"/><circle cx="398.5" cy="1020.3" r="0.6"/><circle cx="362.1" cy="1017.3" r="1.1"/><circle cx="361.5" cy="1003" r="0.7"/><circle cx="396.2" cy="1001.5" r="0.9"/><circle cx="339.9" cy="1009.6" r="1.1"/><circle cx="339.3" cy="1017.3" r="0.9"/><circle cx="392.1" cy="1014.3" r="0.7"/><circle cx="392.8" cy="1008.6" r="0.6"/><circle cx="330.3" cy="1008.8" r="0.8"/><circle cx="351.1" cy="999.7" r="0.8"/><circle cx="352.1" cy="1017.8" r="0.6"/><circle cx="382.6" cy="1017.8" r="0.7"/><circle cx="394.8" cy="1014.5" r="1.1"/><circle cx="350.3" cy="1005.7" r="0.8"/><circle cx="399.9" cy="1011.3" r="0.8"/><circle cx="360" cy="1003.2" r="0.6"/><circle cx="337.1" cy="1017.7" r="0.7"/><circle cx="395.5" cy="1002.5" r="0.7"/><circle cx="365.8" cy="1000.9" r="0.8"/><circle cx="396.9" cy="1019" r="1"/><circle cx="374.2" cy="1019.7" r="1.1"/><circle cx="368.4" cy="1014.7" r="0.6"/><circle cx="381.3" cy="1007.7" r="1"/><circle cx="375.1" cy="1003.4" r="0.6"/><circle cx="394.9" cy="999.3" r="0.8"/><circle cx="354.1" cy="1003.7" r="1"/><circle cx="398.3" cy="1002.8" r="0.9"/><circle cx="351.1" cy="1010.5" r="0.8"/><circle cx="341.7" cy="1000.2" r="0.7"/><circle cx="393.4" cy="1008.9" r="0.7"/><circle cx="393.4" cy="1021.9" r="0.8"/><circle cx="339.8" cy="1001" r="0.6"/><circle cx="353.9" cy="998.4" r="0.7"/><circle cx="348.1" cy="1010.8" r="1"/><circle cx="382.5" cy="1006.7" r="0.8"/><circle cx="366.7" cy="1005.8" r="0.8"/><circle cx="334.3" cy="1003.2" r="1.1"/><circle cx="338.8" cy="1009.1" r="0.9"/><circle cx="314.9" cy="1021.9" r="0.8"/><circle cx="249.8" cy="1035" r="0.8"/><circle cx="264" cy="1033" r="0.8"/><circle cx="324.9" cy="1022.4" r="0.8"/><circle cx="316" cy="1020.9" r="0.8"/><circle cx="223.5" cy="1042.1" r="0.8"/><circle cx="318.5" cy="1022.2" r="0.8"/><circle cx="284.6" cy="1027.1" r="0.8"/><circle cx="263.1" cy="1035.1" r="0.8"/><circle cx="310.8" cy="1025.3" r="0.8"/><circle cx="326.9" cy="1019.6" r="0.8"/><circle cx="232" cy="1038.2" r="0.8"/><circle cx="277.5" cy="1031.2" r="0.8"/><circle cx="323.6" cy="1022.2" r="0.8"/></g>
  <rect x="174" y="973" width="73" height="34.8" fill="none" stroke="#fff" stroke-width="2.8"/>
</g>
<g id="C2" clip-path="url(#cC2)">
  <rect x="463" y="905" width="360" height="180" fill="#231f20"/>
  <path d="M462 954 L557 986 L579 1019 Q563 1036 556 1056 L548 1086 L462 1086 Z" fill="#2d2b2b" filter="url(#b2)"/>
  <path d="M579 1020 Q563 1036 556 1058 L549 1084" stroke="#343232" stroke-width="2.5" fill="none" filter="url(#b2)"/>
  <path d="M466 944 L560 942 L700 947 L824 951 L824 1006 L720 1005 L660 1011 L600 1016 L575 1016 L557 988 L500 968 L466 958 Z" fill="#3b3a3a" filter="url(#b2)"/>
  <path d="M500 948 L700 953 L824 958 L824 985 L700 980 L560 972 Z" fill="#434242" filter="url(#b5)"/>
  <path d="M466 957 L557 987" stroke="#403f3f" stroke-width="3" fill="none" filter="url(#b2)"/>
  <ellipse cx="476" cy="955" rx="10" ry="7" fill="#3e3d3d" filter="url(#b3)"/>
  <g fill="#6e6e6e" opacity="0.6" filter="url(#b1)"><circle cx="703.6" cy="992.9" r="1"/><circle cx="672" cy="951.9" r="1.2"/><circle cx="566.8" cy="1001.3" r="1.2"/><circle cx="590.2" cy="955.4" r="0.9"/><circle cx="700" cy="989.2" r="0.8"/><circle cx="513.2" cy="961.6" r="1.1"/><circle cx="618.1" cy="961.4" r="1.1"/><circle cx="493.5" cy="952.5" r="1"/><circle cx="806.5" cy="986.9" r="1.3"/><circle cx="646.9" cy="962.5" r="0.9"/><circle cx="807" cy="990.2" r="0.9"/><circle cx="497.2" cy="957.5" r="1.2"/><circle cx="628.6" cy="963.5" r="1.2"/><circle cx="795.3" cy="964.3" r="0.7"/><circle cx="601.6" cy="972.5" r="1.2"/><circle cx="555.4" cy="983" r="1.2"/><circle cx="656.6" cy="961" r="1.4"/><circle cx="592.9" cy="995.6" r="0.9"/><circle cx="563.1" cy="992" r="0.9"/><circle cx="804.1" cy="978.9" r="0.8"/><circle cx="563.7" cy="971.9" r="1.2"/><circle cx="803.1" cy="960.1" r="1"/><circle cx="560.3" cy="1004.5" r="0.8"/><circle cx="507.1" cy="947.9" r="1"/><circle cx="786.4" cy="999.7" r="1.2"/><circle cx="819.2" cy="1002.3" r="0.9"/><circle cx="551.2" cy="987.7" r="1.2"/><circle cx="500.5" cy="962.2" r="1"/><circle cx="613.4" cy="967.6" r="0.8"/><circle cx="490.9" cy="951.7" r="0.9"/><circle cx="805.3" cy="958.9" r="1.4"/><circle cx="558.4" cy="963.8" r="1.3"/><circle cx="761.3" cy="975" r="0.7"/><circle cx="646.2" cy="970.3" r="1.3"/><circle cx="553.7" cy="963.4" r="1.3"/><circle cx="500" cy="956" r="1.3"/><circle cx="743" cy="953.3" r="0.7"/><circle cx="510.7" cy="972" r="0.9"/><circle cx="736.6" cy="1000.4" r="0.9"/><circle cx="579.9" cy="1003.5" r="1.1"/><circle cx="576.5" cy="989.5" r="0.9"/><circle cx="581" cy="948" r="1.2"/><circle cx="792.4" cy="986.3" r="1.4"/><circle cx="498" cy="951.5" r="1"/><circle cx="805.7" cy="1003.5" r="1"/><circle cx="572.8" cy="972.7" r="1"/><circle cx="796.3" cy="962" r="1.3"/><circle cx="733.7" cy="996.2" r="1.2"/><circle cx="690.4" cy="968.4" r="0.9"/><circle cx="609.4" cy="993.5" r="0.8"/><circle cx="555.1" cy="981" r="0.9"/><circle cx="511.4" cy="947.4" r="1.1"/><circle cx="597.5" cy="1004.9" r="1.3"/><circle cx="816" cy="966.7" r="0.8"/><circle cx="521.8" cy="962.6" r="1.2"/><circle cx="637.5" cy="962.3" r="1"/><circle cx="694.7" cy="987.8" r="1.2"/><circle cx="769.5" cy="987.7" r="0.8"/><circle cx="767.5" cy="967.5" r="1.1"/><circle cx="613.1" cy="990.9" r="0.8"/><circle cx="571.7" cy="962" r="0.8"/><circle cx="781.8" cy="983.2" r="0.9"/><circle cx="620.7" cy="1005.6" r="1.1"/><circle cx="566.4" cy="994.8" r="1.2"/><circle cx="817" cy="958" r="1"/><circle cx="760.3" cy="997.3" r="1.3"/><circle cx="503.3" cy="953.6" r="0.8"/><circle cx="552.6" cy="989.8" r="1.1"/><circle cx="797" cy="972.2" r="1.3"/><circle cx="638.2" cy="963.8" r="1.2"/><circle cx="802.1" cy="957.9" r="1.1"/><circle cx="694.6" cy="962.3" r="1"/><circle cx="536.7" cy="954.6" r="0.9"/><circle cx="687.8" cy="986.5" r="0.8"/><circle cx="493.8" cy="953.1" r="1.2"/><circle cx="551.1" cy="960.7" r="0.8"/><circle cx="752.4" cy="981.3" r="0.7"/><circle cx="523.5" cy="959.6" r="1.1"/><circle cx="700.9" cy="955.3" r="0.8"/><circle cx="719.5" cy="973.3" r="0.9"/><circle cx="591.5" cy="1003.3" r="0.9"/><circle cx="677" cy="969.8" r="1"/><circle cx="775.2" cy="1005.8" r="1"/><circle cx="555.1" cy="979.9" r="0.8"/><circle cx="491.9" cy="964.7" r="1"/><circle cx="760.7" cy="973.6" r="1.3"/><circle cx="642.1" cy="958.3" r="0.7"/><circle cx="672" cy="985.7" r="1.3"/><circle cx="519.4" cy="966" r="1"/><circle cx="656.5" cy="957.6" r="0.9"/><circle cx="662" cy="1001.8" r="0.8"/><circle cx="651.9" cy="994.9" r="1.4"/><circle cx="555.1" cy="953" r="1.4"/><circle cx="811.9" cy="978.3" r="0.7"/><circle cx="795.6" cy="973" r="1.3"/><circle cx="694.7" cy="996.2" r="0.8"/><circle cx="749.3" cy="963.4" r="1"/><circle cx="769.3" cy="996.7" r="0.8"/><circle cx="562" cy="970.8" r="1.1"/><circle cx="616.6" cy="955.6" r="0.9"/><circle cx="729.2" cy="1000.3" r="0.7"/><circle cx="675.6" cy="992.3" r="0.7"/><circle cx="766.6" cy="957.9" r="1.1"/><circle cx="671.5" cy="985" r="0.9"/><circle cx="628.6" cy="982.1" r="1"/><circle cx="707.4" cy="975.2" r="1"/><circle cx="497.7" cy="960.3" r="1"/><circle cx="567.6" cy="992.2" r="1.2"/><circle cx="641.2" cy="959.3" r="1"/><circle cx="525.3" cy="951" r="1"/><circle cx="520.3" cy="960.5" r="1.1"/><circle cx="503.5" cy="962.3" r="0.8"/><circle cx="732" cy="993.7" r="1.1"/><circle cx="507.9" cy="959.9" r="1"/><circle cx="803.8" cy="959.6" r="1.3"/><circle cx="818.7" cy="991.7" r="1.3"/><circle cx="553.9" cy="990.8" r="1"/><circle cx="805.7" cy="1001.5" r="0.8"/><circle cx="750.2" cy="1002.2" r="0.7"/><circle cx="605.8" cy="991.9" r="0.8"/><circle cx="785.9" cy="966.8" r="1.3"/><circle cx="537.4" cy="966" r="1.3"/><circle cx="558.7" cy="959.5" r="1.1"/><circle cx="595.3" cy="950.2" r="0.8"/><circle cx="543.2" cy="984.7" r="1.2"/><circle cx="785.5" cy="961" r="1.2"/><circle cx="528" cy="965" r="1.1"/><circle cx="608.7" cy="998.7" r="1.1"/><circle cx="681.4" cy="999.4" r="0.8"/><circle cx="817.7" cy="986.2" r="1"/><circle cx="753.2" cy="965.8" r="1.4"/><circle cx="680.5" cy="970.1" r="1.2"/><circle cx="636" cy="959" r="1.2"/><circle cx="505.9" cy="967.7" r="0.9"/><circle cx="700.9" cy="1005.1" r="1.1"/><circle cx="709" cy="967.8" r="0.7"/><circle cx="501.2" cy="949.8" r="1.1"/><circle cx="632.6" cy="978.2" r="1.3"/><circle cx="533.6" cy="955.2" r="1.2"/><circle cx="497.4" cy="946.2" r="0.9"/><circle cx="525.1" cy="958.6" r="0.9"/><circle cx="682.6" cy="982.9" r="0.8"/><circle cx="695.9" cy="976.7" r="0.8"/><circle cx="799.1" cy="965.3" r="0.8"/><circle cx="521.6" cy="967.1" r="1.3"/><circle cx="748.1" cy="973.2" r="0.9"/><circle cx="493.8" cy="959.9" r="1.1"/><circle cx="605.6" cy="985.6" r="1"/><circle cx="799.3" cy="991.7" r="0.9"/><circle cx="788.2" cy="954.3" r="1.1"/><circle cx="624" cy="962.3" r="0.7"/><circle cx="747" cy="951.8" r="1.1"/><circle cx="800.5" cy="959.9" r="0.8"/><circle cx="690.7" cy="978.4" r="1.1"/><circle cx="758.4" cy="960.9" r="0.9"/><circle cx="589.1" cy="950.8" r="1.3"/><circle cx="748.4" cy="990.4" r="0.7"/><circle cx="768.7" cy="992.1" r="1"/><circle cx="734.8" cy="975.8" r="0.9"/><circle cx="524.7" cy="954.4" r="0.7"/><circle cx="600.7" cy="991.5" r="1.2"/><circle cx="769" cy="990.3" r="0.9"/><circle cx="672.7" cy="974.2" r="1.3"/><circle cx="662.7" cy="964.5" r="1.1"/><circle cx="808.5" cy="964" r="1.3"/><circle cx="495" cy="951.8" r="0.9"/><circle cx="735.5" cy="1003" r="1.2"/><circle cx="597.9" cy="999.1" r="0.9"/><circle cx="568.9" cy="1000.6" r="1.1"/><circle cx="718.6" cy="987.4" r="1.4"/><circle cx="644.9" cy="996.9" r="1.2"/><circle cx="773" cy="975.4" r="1.2"/><circle cx="678.2" cy="967.1" r="0.8"/><circle cx="695.5" cy="954.5" r="1.3"/><circle cx="537.7" cy="948" r="0.8"/><circle cx="796.6" cy="970.7" r="0.8"/><circle cx="499.5" cy="947.2" r="1.2"/><circle cx="699.2" cy="989.1" r="1.2"/><circle cx="511.7" cy="963.1" r="1"/><circle cx="759.8" cy="996.1" r="1.3"/><circle cx="511.8" cy="971" r="1.3"/><circle cx="801.6" cy="958" r="0.8"/><circle cx="527" cy="947.9" r="1.3"/><circle cx="758" cy="986" r="1.3"/><circle cx="698.4" cy="966.2" r="0.8"/><circle cx="522.3" cy="971.1" r="0.8"/><circle cx="595.3" cy="972.6" r="0.7"/><circle cx="574.7" cy="964.2" r="1.2"/><circle cx="611.4" cy="966.9" r="1.4"/><circle cx="656.2" cy="997.6" r="1.1"/><circle cx="500.2" cy="956.1" r="1"/><circle cx="745.1" cy="970.1" r="1.2"/><circle cx="667.5" cy="961.8" r="1.3"/><circle cx="520" cy="972.3" r="0.8"/><circle cx="490.4" cy="950.1" r="1.2"/><circle cx="812.7" cy="952.7" r="1"/><circle cx="652.2" cy="994.5" r="0.8"/><circle cx="653.2" cy="969" r="1.3"/><circle cx="576" cy="1002.7" r="0.9"/><circle cx="560.9" cy="988.4" r="1"/><circle cx="526.3" cy="968.2" r="0.8"/><circle cx="750" cy="989.4" r="1.3"/><circle cx="697.2" cy="970" r="1"/><circle cx="620.2" cy="999.7" r="0.8"/><circle cx="783.2" cy="953.2" r="0.8"/><circle cx="576.9" cy="1000.2" r="1.1"/><circle cx="615.2" cy="999.3" r="0.9"/><circle cx="642.1" cy="979.3" r="1.2"/><circle cx="738.5" cy="986.5" r="0.9"/><circle cx="597.8" cy="957.1" r="1.3"/><circle cx="708.5" cy="991.6" r="0.8"/><circle cx="634.8" cy="993.1" r="1.1"/><circle cx="531.6" cy="963.4" r="1.3"/><circle cx="568.5" cy="958.8" r="0.9"/><circle cx="722" cy="997.3" r="0.8"/><circle cx="541.5" cy="956.8" r="0.9"/><circle cx="662.3" cy="958.5" r="0.9"/><circle cx="552.5" cy="989.9" r="1.2"/><circle cx="523.6" cy="978.2" r="0.8"/><circle cx="616.8" cy="1005.1" r="1.3"/><circle cx="732" cy="974.8" r="0.8"/><circle cx="700.5" cy="956.2" r="0.8"/><circle cx="618.2" cy="950.5" r="1"/><circle cx="751" cy="989.2" r="1.1"/><circle cx="698.7" cy="976" r="0.8"/><circle cx="689.2" cy="972.7" r="1.2"/><circle cx="789.6" cy="975.2" r="1.1"/><circle cx="737.2" cy="974.1" r="0.9"/><circle cx="728.3" cy="999.4" r="1.2"/><circle cx="721" cy="997.8" r="1.2"/><circle cx="701.7" cy="975.5" r="0.9"/><circle cx="697.3" cy="955.6" r="1"/><circle cx="748.2" cy="990.3" r="1.1"/><circle cx="572.5" cy="972.4" r="1"/><circle cx="695.1" cy="973" r="1.2"/><circle cx="797" cy="962" r="1.2"/><circle cx="746.8" cy="972.5" r="1"/><circle cx="811.6" cy="954.5" r="1.1"/><circle cx="543.1" cy="978.5" r="1.4"/><circle cx="661.3" cy="955.1" r="1.1"/><circle cx="668.5" cy="990" r="1.1"/><circle cx="701" cy="996.5" r="1.1"/><circle cx="625.4" cy="1003" r="0.8"/><circle cx="715.8" cy="972.3" r="1.2"/><circle cx="530.4" cy="981.6" r="0.9"/><circle cx="508.7" cy="953.8" r="1"/><circle cx="494.4" cy="955.2" r="1"/><circle cx="720.4" cy="970.1" r="0.9"/><circle cx="564.1" cy="990.9" r="1.4"/><circle cx="663.9" cy="961.9" r="1.3"/><circle cx="619.3" cy="960.8" r="0.8"/><circle cx="746.3" cy="995.6" r="1.1"/><circle cx="644.8" cy="981.1" r="0.9"/><circle cx="808.1" cy="971.3" r="1.1"/><circle cx="760.2" cy="996" r="1"/><circle cx="587.1" cy="979.8" r="0.8"/><circle cx="765.1" cy="970.8" r="1.3"/><circle cx="578.3" cy="969.7" r="0.9"/><circle cx="630.6" cy="959.4" r="0.7"/><circle cx="728.2" cy="966.3" r="0.9"/></g>
  <rect x="584.3" y="973.7" width="71.6" height="33.8" fill="none" stroke="#fff" stroke-width="2.8"/>
</g>
<g id="C3" clip-path="url(#cC3)">
  <rect x="100" y="1090" width="360" height="182" fill="#4d4d4d"/>
  <rect x="95" y="1235" width="370" height="45" fill="#474747" filter="url(#b12)"/>
  <ellipse cx="140" cy="1252" rx="60" ry="26" fill="#414141" filter="url(#b12)"/>
  <ellipse cx="310" cy="1104" rx="22" ry="10" fill="#3f3f3f" filter="url(#b5)"/>
  <ellipse cx="425" cy="1106" rx="16" ry="12" fill="#404040" filter="url(#b5)"/>
  <ellipse cx="240" cy="1215" rx="40" ry="12" fill="#505050" filter="url(#b8)"/>
  <ellipse cx="400" cy="1225" rx="40" ry="14" fill="#4e4e4e" filter="url(#b8)"/>
  <path d="M330 1092 L400 1092 L300 1150 L250 1150 Z" fill="#525252" filter="url(#b8)"/>
  <path d="M390 1092 L450 1092 L380 1140 L340 1140 Z" fill="#505050" filter="url(#b8)"/>
  <ellipse cx="180" cy="1105" rx="30" ry="10" fill="#404040" filter="url(#b8)"/>
  <path d="M100 1140 L190 1153 L275 1160 L360 1162 L460 1166 L460 1198 L420 1200 L360 1190 L290 1186 L220 1194 L180 1190 L120 1178 L100 1170 Z" fill="#5c5c5c" filter="url(#b8)"/>
  <path d="M104 1140 L186 1152 L272 1158 L307 1157 L359 1161 L458 1165" stroke="#6e6e6e" stroke-width="7" fill="none" filter="url(#b3)"/>
  <path d="M122 1172 L186 1185 L222 1190 L294 1183 L359 1184 L405 1193 L458 1193" stroke="#626262" stroke-width="6" fill="none" filter="url(#b3)"/>
  <g fill="#929292" opacity="0.72" filter="url(#b2)"><circle cx="106" cy="1137.1" r="4.2"/><circle cx="115.2" cy="1142.6" r="3.3"/><circle cx="125.5" cy="1144.4" r="3.6"/><circle cx="137.6" cy="1147.8" r="2.4"/><circle cx="145.3" cy="1150" r="3.7"/><circle cx="150.7" cy="1149.4" r="4.4"/><circle cx="164.4" cy="1146.8" r="2.5"/><circle cx="169.5" cy="1146.6" r="3.4"/><circle cx="175.1" cy="1151.1" r="2.3"/><circle cx="184.3" cy="1153.5" r="3.2"/><circle cx="196.8" cy="1149.1" r="3.3"/><circle cx="207.8" cy="1153.1" r="3.2"/><circle cx="215.3" cy="1162.6" r="4"/><circle cx="226.7" cy="1154.7" r="2.9"/><circle cx="233.7" cy="1155.1" r="3.9"/><circle cx="242.3" cy="1156.9" r="4.1"/><circle cx="250.8" cy="1161.4" r="2.2"/><circle cx="257.7" cy="1155.7" r="4.2"/><circle cx="266.9" cy="1160.2" r="2.4"/><circle cx="277.6" cy="1157.5" r="3.9"/><circle cx="285" cy="1159.6" r="4.3"/><circle cx="296.9" cy="1158.5" r="2.5"/><circle cx="304.1" cy="1157.8" r="4"/><circle cx="310.7" cy="1157.8" r="3.4"/><circle cx="319.7" cy="1159.5" r="2.5"/><circle cx="330.5" cy="1162.7" r="2.5"/><circle cx="339.3" cy="1160" r="4.3"/><circle cx="351.5" cy="1162.4" r="2.9"/><circle cx="364.5" cy="1161.9" r="4.1"/><circle cx="375.2" cy="1164.2" r="2.4"/><circle cx="389.1" cy="1162.7" r="3.9"/><circle cx="397.1" cy="1164.5" r="2.9"/><circle cx="402.8" cy="1165.7" r="2.7"/><circle cx="413.2" cy="1165" r="3"/><circle cx="422.3" cy="1166.4" r="3.5"/><circle cx="435.1" cy="1163.3" r="2.6"/><circle cx="441.4" cy="1168.4" r="2.7"/><circle cx="448.2" cy="1162" r="3.8"/></g>
  <g fill="#868686" opacity="0.62" filter="url(#b2)"><circle cx="124" cy="1175" r="4"/><circle cx="137.8" cy="1182.6" r="3"/><circle cx="147.7" cy="1185.2" r="2.7"/><circle cx="162.3" cy="1182.2" r="2.7"/><circle cx="177.9" cy="1181.2" r="2.6"/><circle cx="192.6" cy="1184.4" r="2.3"/><circle cx="203.5" cy="1181.6" r="3.4"/><circle cx="214.7" cy="1186.7" r="4"/><circle cx="225.3" cy="1192.2" r="3.1"/><circle cx="234.8" cy="1189" r="2.6"/><circle cx="246.8" cy="1186.1" r="2.9"/><circle cx="262.9" cy="1185.3" r="4.2"/><circle cx="277.2" cy="1183.1" r="2.5"/><circle cx="286.4" cy="1179.8" r="2.2"/><circle cx="302.7" cy="1180.6" r="2.2"/><circle cx="316.8" cy="1175.5" r="3.2"/><circle cx="331.7" cy="1178.4" r="2.4"/><circle cx="345" cy="1194.9" r="3.7"/><circle cx="361.2" cy="1184" r="3.8"/><circle cx="377.6" cy="1182.7" r="2.9"/><circle cx="392" cy="1195.7" r="3"/><circle cx="407.4" cy="1189.2" r="3.9"/><circle cx="420.9" cy="1190.8" r="3.4"/><circle cx="434.8" cy="1190.8" r="2.4"/><circle cx="448.9" cy="1199.6" r="3.7"/><circle cx="359" cy="1217.5" r="2.6"/></g>
  <rect x="102" y="1092" width="357" height="179" fill="url(#hx)"/>
  <polygon points="188.8,1131.9 195.9,1138.8 183.4,1144" fill="#fff"/>
  <polygon points="242.9,1131.5 250,1138.6 237.5,1144" fill="#fff"/>
  <polygon points="308.5,1140.5 315.4,1147.4 303,1152.6" fill="#fff"/>
  <polygon points="208.4,1197.3 220.8,1202.5 214.5,1209.6" fill="#fff"/>
  <polygon points="225.6,1195.8 238.1,1201.5 231.4,1208.3" fill="#fff"/>
</g>
<g id="C4" clip-path="url(#cC4)">
  <rect x="463" y="1089" width="360" height="183" fill="#3f3f3f"/>
  <rect x="460" y="1225" width="370" height="50" fill="#383838" filter="url(#b12)"/>
  <ellipse cx="500" cy="1240" rx="50" ry="30" fill="#353535" filter="url(#b12)"/>
  <ellipse cx="510" cy="1115" rx="30" ry="14" fill="#4a4a4a" filter="url(#b8)"/>
  <ellipse cx="605" cy="1108" rx="14" ry="22" fill="#4a4a4a" filter="url(#b8)"/>
  <ellipse cx="700" cy="1100" rx="30" ry="8" fill="#494949" filter="url(#b8)"/>
  <ellipse cx="780" cy="1125" rx="26" ry="14" fill="#474747" filter="url(#b8)"/>
  <ellipse cx="560" cy="1140" rx="22" ry="16" fill="#373737" filter="url(#b12)"/>
  <ellipse cx="640" cy="1135" rx="24" ry="14" fill="#383838" filter="url(#b12)"/>
  <ellipse cx="720" cy="1140" rx="24" ry="12" fill="#393939" filter="url(#b12)"/>
  <path d="M470 1165 L520 1175 L620 1182 L700 1192 L760 1200 L822 1196" stroke="#494949" stroke-width="14" fill="none" filter="url(#b8)"/>
  <g fill="#565656" filter="url(#b3)"><circle cx="524" cy="1176" r="3.5"/><circle cx="622" cy="1183" r="3.5"/><circle cx="682" cy="1190" r="3.5"/><circle cx="700" cy="1194" r="3.5"/><circle cx="756" cy="1202" r="3.5"/><circle cx="800" cy="1197" r="3.5"/><circle cx="478" cy="1160" r="3.5"/></g>
  <rect x="465" y="1091" width="357" height="180" fill="url(#hx)"/>
</g>
</svg>
</body>
</html>
